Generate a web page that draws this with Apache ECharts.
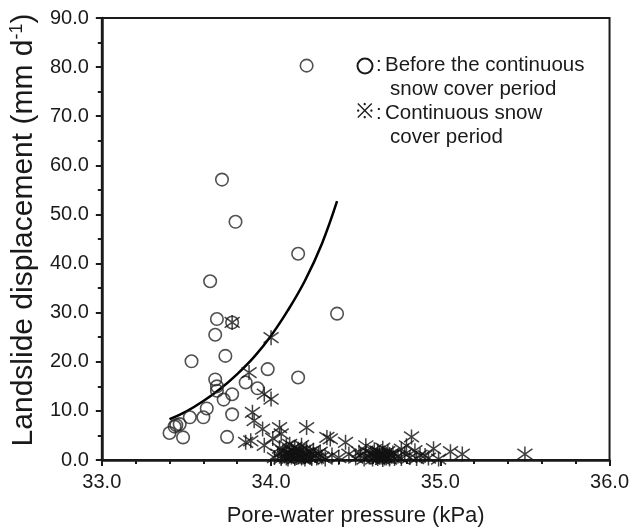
<!DOCTYPE html>
<html><head><meta charset="utf-8">
<script src="https://cdn.jsdelivr.net/npm/echarts@6/dist/echarts.min.js"></script>
<style>html,body{margin:0;padding:0;background:#fff}#c{width:632px;height:532px}</style>
</head><body><div id="c"></div>
<script>
// Circles: before the continuous snow cover period [pressure kPa, displacement mm/d]
const beforeSnow = [
  [34.21,80.3],[33.71,57.1],[33.79,48.5],[34.16,42.0],[33.64,36.4],[34.39,29.8],
  [33.68,28.7],[33.77,28.0],[33.67,25.5],[33.53,20.1],[33.73,21.2],[33.98,18.5],
  [34.16,16.8],[33.67,16.4],[33.68,15.0],[33.68,14.1],[33.85,15.8],[33.92,14.6],
  [33.77,13.4],[33.72,12.3],[33.62,10.5],[33.60,8.7],[33.52,8.7],[33.77,9.3],
  [33.46,7.3],[33.43,6.8],[33.44,7.1],[33.40,5.5],[33.48,4.6],[33.74,4.7]
];
// Asterisks: continuous snow cover period
const snowCover = [
  [33.77,28.0],[34.00,24.9],[33.87,17.8],[33.96,13.4],[34.00,12.4],[33.89,9.7],
  [33.90,8.0],[33.95,6.3],[34.05,6.6],[34.06,5.3],[34.21,6.6],[33.85,3.6],
  [33.88,3.9],[33.96,3.0],[34.01,4.4],[34.33,4.6],[34.35,4.3],[34.44,3.6],
  [34.56,2.9],[34.83,4.7],[34.80,2.9],[34.77,2.2],[34.96,2.3],[34.85,1.9],
  [34.46,1.2],[34.52,1.6],[34.29,1.6],[34.91,0.9],[35.06,1.7],[35.13,1.2],
  [35.50,1.2],[34.99,0.2],
  [34.02,0.5],[34.04,1.2],[34.05,2.4],[34.06,0.3],[34.07,1.8],[34.08,0.8],
  [34.09,2.9],[34.10,0.2],[34.10,1.5],[34.11,3.2],[34.12,0.6],[34.12,2.1],
  [34.13,1.0],[34.14,0.3],[34.14,2.6],[34.15,1.4],[34.16,0.7],[34.17,1.9],
  [34.18,0.4],[34.18,3.0],[34.19,1.1],[34.20,0.2],[34.21,2.3],[34.22,0.8],
  [34.23,1.6],[34.24,0.3],[34.25,2.0],[34.26,0.9],[34.27,0.4],[34.28,1.3],
  [34.30,0.6],[34.32,0.2],[34.36,1.0],[34.40,0.5],
  [34.08,1.3],[34.11,0.9],[34.13,1.7],[34.15,0.5],[34.17,1.2],[34.19,0.6],
  [34.21,1.4],[34.23,0.5],[34.09,0.4],[34.16,2.2],
  [34.50,0.4],[34.53,1.0],[34.55,0.2],[34.56,1.8],[34.58,0.6],[34.59,1.3],
  [34.60,0.2],[34.61,2.1],[34.62,0.9],[34.63,0.3],[34.64,1.5],[34.65,0.6],
  [34.66,0.1],[34.66,2.4],[34.67,1.0],[34.68,0.4],[34.69,1.7],[34.70,0.2],
  [34.71,0.9],[34.72,1.4],[34.73,0.3],[34.75,0.8],[34.77,0.3],[34.79,1.2],
  [34.82,0.5],[34.86,0.3],[34.88,1.0],[34.93,0.4],
  [34.60,1.1],[34.62,0.5],[34.64,0.9],[34.66,1.3],[34.68,0.8],[34.70,1.1],
  [34.63,1.8],[34.67,0.4]
];
// Fitted curve, points
const fitCurve = [
  [33.40,8.3],[33.50,9.9],[33.60,12.0],[33.70,14.5],[33.80,17.5],[33.90,21.0],
  [34.00,25.3],[34.10,30.5],[34.20,36.5],[34.30,44.0],[34.39,52.7]
];
const xTicks = [33,34,35,36];
const yTicks = [0,10,20,30,40,50,60,70,80,90];

const ink = '#1a1a1a';
const font = 'Liberation Sans, Arial, sans-serif';
const chart = echarts.init(document.getElementById('c'), null, {renderer:'canvas'});
chart.setOption({
  animation:false,
  backgroundColor:'#fff',
  grid:{left:100,right:16,top:18,bottom:71,show:true,borderColor:ink,borderWidth:2,backgroundColor:'transparent'},
  xAxis:{
    type:'value',min:xTicks[0],max:xTicks[xTicks.length-1],interval:1,
    name:'Pore-water pressure (kPa)',nameLocation:'middle',nameGap:45,
    nameTextStyle:{fontFamily:font,fontSize:22,color:ink},
    axisLine:{show:true,onZero:false,lineStyle:{color:ink,width:2.5}},
    axisTick:{show:true,inside:false,length:6,lineStyle:{color:ink,width:2}},
    minorTick:{show:true,splitNumber:5,length:4,lineStyle:{color:ink,width:2}},
    axisLabel:{fontFamily:font,fontSize:20,color:ink,margin:12,formatter:v=>v.toFixed(1)},
    splitLine:{show:false}
  },
  yAxis:{
    type:'value',min:yTicks[0],max:yTicks[yTicks.length-1],interval:10,
    name:'{n|Landslide displacement (mm d}{s|-1}{n|)}',nameLocation:'middle',nameGap:56,nameRotate:90,
    nameTextStyle:{padding:[0,0,0,18],rich:{n:{fontFamily:font,fontSize:30,color:ink},s:{fontFamily:font,fontSize:18,color:ink,verticalAlign:'top',padding:[0,0,14,0]}}},
    axisLine:{show:true,onZero:false,lineStyle:{color:ink,width:2.5}},
    axisTick:{show:true,inside:false,length:6,lineStyle:{color:ink,width:2}},
    minorTick:{show:true,splitNumber:2,length:4,lineStyle:{color:ink,width:2}},
    axisLabel:{fontFamily:font,fontSize:20,color:ink,margin:13,formatter:v=>v.toFixed(1)},
    splitLine:{show:false}
  },
  series:[
    {type:'line',data:fitCurve,smooth:0.4,symbol:'none',lineStyle:{color:'#000',width:2.5},z:3},
    {type:'scatter',data:beforeSnow,symbol:'circle',symbolSize:12.5,clip:false,
      itemStyle:{color:'rgba(0,0,0,0)',borderColor:'#262626',borderWidth:1.6},z:4},
    {type:'scatter',data:snowCover,clip:false,
      symbol:'path://M0,-1L0,1M-0.85,-0.7L0.85,0.7M-0.85,0.7L0.85,-0.7',symbolSize:[15,15],
      itemStyle:{color:'rgba(0,0,0,0)',borderColor:'#111',borderWidth:1.5},z:5}
  ],
  graphic:[
    {type:'circle',shape:{cx:365,cy:66,r:7.5},style:{fill:'none',stroke:ink,lineWidth:2}},
    {type:'text',left:376,top:55,style:{text:':',font:'20.5px '+font,fill:ink}},
    {type:'text',left:385,top:55,style:{text:'Before the continuous',font:'20.5px '+font,fill:ink}},
    {type:'text',left:390,top:79,style:{text:'snow cover period',font:'20.5px '+font,fill:ink}},
    {type:'text',left:356,top:102,style:{text:'\u203B',font:'21px '+font,fill:ink}},
    {type:'text',left:376,top:103,style:{text:':',font:'20.5px '+font,fill:ink}},
    {type:'text',left:385,top:103,style:{text:'Continuous snow',font:'20.5px '+font,fill:ink}},
    {type:'text',left:390,top:127,style:{text:'cover period',font:'20.5px '+font,fill:ink}}
  ]
});
</script></body></html>
